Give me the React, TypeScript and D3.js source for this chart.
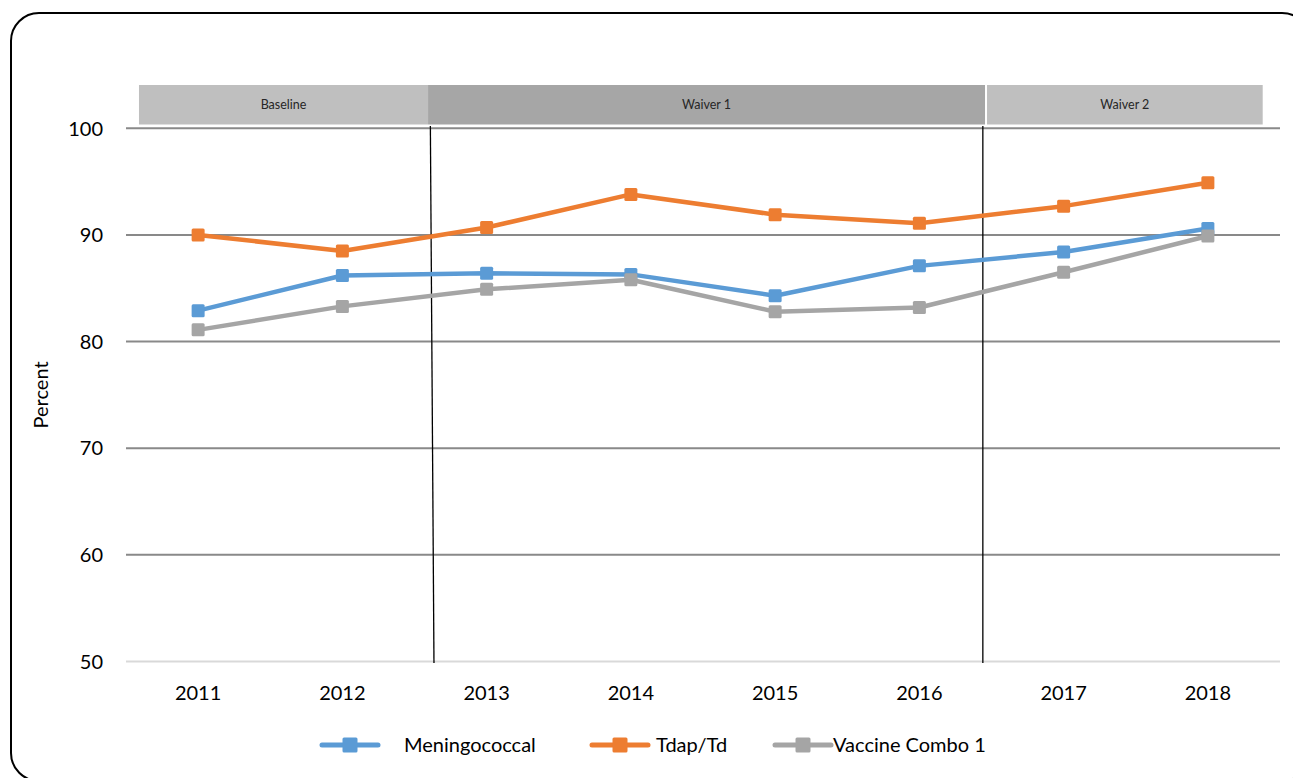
import React, { useEffect, useRef } from 'react';
import * as d3 from 'd3';

const years = ['2011', '2012', '2013', '2014', '2015', '2016', '2017', '2018'];
const meningococcal = [82.9, 86.2, 86.4, 86.3, 84.3, 87.1, 88.4, 90.6];
const tdap = [90.0, 88.5, 90.7, 93.8, 91.9, 91.1, 92.7, 94.9];
const combo1 = [81.1, 83.3, 84.9, 85.8, 82.8, 83.2, 86.5, 89.9];
const yTicks = [50, 60, 70, 80, 90, 100];

// periods in category-index units (0 = 2011)
const periods = [
  { label: 'Baseline', start: -0.41, end: 1.594 },
  { label: 'Waiver 1', start: 1.594, end: 5.455 },
  { label: 'Waiver 2', start: 5.469, end: 7.38 },
];
const dividers = [
  { top: 1.61, bottom: 1.635 },
  { top: 5.44, bottom: 5.44 },
];

const series = [
  { name: 'Meningococcal', values: meningococcal, color: '#5b9bd5' },
  { name: 'Tdap/Td', values: tdap, color: '#ed7d31' },
  { name: 'Vaccine Combo 1', values: combo1, color: '#a5a5a5' },
];

const W = 1293;
const H = 778;
const FONT = 'Lato, "Open Sans", sans-serif';

const App = () => {
  const svgRef = useRef(null);

  useEffect(() => {
    const svg = d3.select(svgRef.current);
    svg.selectAll('*').remove();

    const left = 126, right = 1280, top = 128.3, bottom = 661.5;

    const x = d3.scaleBand().domain(years).range([left, right]).padding(0);
    const cx = (d) => x(d) + x.bandwidth() / 2;
    const xi = d3.scaleLinear().domain([-0.5, years.length - 0.5]).range([left, right]);
    const y = d3.scaleLinear().domain([50, 100]).range([bottom, top]);

    // frame (runs off the right and bottom edges)
    svg.append('rect')
      .attr('x', 11).attr('y', 13)
      .attr('width', 1299).attr('height', 768)
      .attr('rx', 28).attr('ry', 28)
      .attr('fill', 'white')
      .attr('stroke', 'black')
      .attr('stroke-width', 2);

    // period header bands
    const band = svg.append('g');
    band.selectAll('rect')
      .data(periods)
      .enter()
      .append('rect')
      .attr('x', d => xi(d.start))
      .attr('y', 85)
      .attr('width', d => xi(d.end) - xi(d.start))
      .attr('height', 39.5)
      .attr('fill', (d, i) => (i === 1 ? '#a6a6a6' : '#bfbfbf'));
    band.selectAll('text')
      .data(periods)
      .enter()
      .append('text')
      .attr('x', d => (xi(d.start) + xi(d.end)) / 2)
      .attr('y', 109)
      .attr('text-anchor', 'middle')
      .style('font-family', FONT)
      .style('font-size', '12.5px')
      .style('fill', '#262626')
      .text(d => d.label);

    // gridlines
    svg.append('g')
      .selectAll('line')
      .data(yTicks)
      .enter()
      .append('line')
      .attr('x1', left).attr('x2', right)
      .attr('y1', d => y(d)).attr('y2', d => y(d))
      .attr('stroke', d => (d === 50 ? '#d9d9d9' : '#898989'))
      .attr('stroke-width', 2);

    // y tick labels
    svg.append('g')
      .selectAll('text')
      .data(yTicks)
      .enter()
      .append('text')
      .attr('x', 103)
      .attr('y', d => y(d))
      .attr('dy', '0.36em')
      .attr('text-anchor', 'end')
      .style('font-family', FONT)
      .style('font-size', '20px')
      .style('fill', '#000')
      .text(d => d);

    // x tick labels
    svg.append('g')
      .selectAll('text')
      .data(years)
      .enter()
      .append('text')
      .attr('x', d => cx(d))
      .attr('y', 700)
      .attr('text-anchor', 'middle')
      .style('font-family', FONT)
      .style('font-size', '20px')
      .style('fill', '#000')
      .text(d => d);

    // axis title
    svg.append('text')
      .attr('transform', `translate(48, ${(top + bottom) / 2}) rotate(-90)`)
      .attr('text-anchor', 'middle')
      .style('font-family', FONT)
      .style('font-size', '20px')
      .style('fill', '#000')
      .text('Percent');

    // period dividers
    svg.append('g')
      .selectAll('line')
      .data(dividers)
      .enter()
      .append('line')
      .attr('x1', d => xi(d.top)).attr('x2', d => xi(d.bottom))
      .attr('y1', 126).attr('y2', 663)
      .attr('stroke', '#000')
      .attr('stroke-width', 1.3);

    // series lines + markers
    const line = d3.line()
      .x((d, i) => cx(years[i]))
      .y(d => y(d));
    const ms = 13;
    series.forEach(s => {
      const g = svg.append('g');
      g.append('path')
        .datum(s.values)
        .attr('d', line)
        .attr('fill', 'none')
        .attr('stroke', s.color)
        .attr('stroke-width', 4.5)
        .attr('stroke-linejoin', 'round');
      g.selectAll('rect')
        .data(s.values)
        .enter()
        .append('rect')
        .attr('x', (d, i) => cx(years[i]) - ms / 2)
        .attr('y', d => y(d) - ms / 2)
        .attr('width', ms).attr('height', ms)
        .attr('rx', 1.5)
        .attr('fill', s.color);
    });

    // legend
    const legendX = [322, 592, 775];
    const textX = [404, 656, 833];
    const ly = 745;
    const legend = svg.append('g');
    series.forEach((s, i) => {
      legend.append('line')
        .attr('x1', legendX[i]).attr('x2', legendX[i] + 56)
        .attr('y1', ly).attr('y2', ly)
        .attr('stroke', s.color)
        .attr('stroke-width', 5)
        .attr('stroke-linecap', 'round');
      legend.append('rect')
        .attr('x', legendX[i] + 28 - 7.5).attr('y', ly - 7.5)
        .attr('width', 15).attr('height', 15)
        .attr('rx', 1.5)
        .attr('fill', s.color);
      legend.append('text')
        .attr('x', textX[i]).attr('y', ly)
        .attr('dy', '0.36em')
        .style('font-family', FONT)
        .style('font-size', '20px')
        .style('fill', '#000')
        .text(s.name);
    });
  }, []);

  return (
    <svg
      ref={svgRef}
      width={W}
      height={H}
      style={{ position: 'absolute', left: 0, top: 0, background: 'white' }}
    ></svg>
  );
};

export default App;
